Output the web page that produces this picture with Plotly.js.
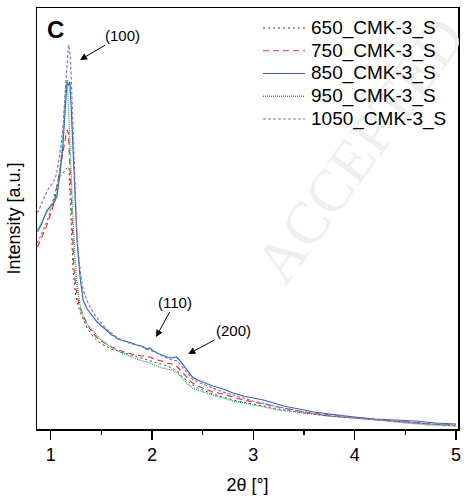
<!DOCTYPE html>
<html>
<head>
<meta charset="utf-8">
<script src="https://cdn.plot.ly/plotly-3.0.1.min.js"></script>
<style>html,body{margin:0;padding:0;background:#fff;}#chart{width:464px;height:500px;}</style>
</head>
<body>
<div id="chart"></div>
<script>
// 2θ values and intensities (a.u.)
const x650 = [0.87,0.92,0.97,1.00,1.04,1.08,1.12,1.15,1.18,1.19,1.205,1.22,1.24,1.26,1.29,1.32,1.36,1.42,1.50,1.60,1.70,1.80,1.90,2.00,2.05,2.10,2.15,2.20,2.25,2.30,2.35,2.40,2.45,2.50,2.60,2.70,2.80,2.90,3.00,3.25,3.50,3.75,4.00,4.25,4.50,4.75,5.00];
const y650 = [186,197,209,219,236,251,256,260,262,239,199,160,138,127,117,110,101,92,85,80,77,74,71,68,66,65,63,61,58,52,48,44,41,39,35,32,29,27,25,20,16,13,11,9,7,5,3];

const x750 = [0.87,0.91,0.96,1.00,1.04,1.08,1.11,1.14,1.16,1.175,1.19,1.20,1.215,1.23,1.25,1.28,1.32,1.36,1.40,1.45,1.50,1.55,1.60,1.65,1.70,1.75,1.80,1.85,1.90,1.95,2.00,2.05,2.10,2.15,2.20,2.24,2.28,2.32,2.36,2.40,2.45,2.50,2.60,2.70,2.80,2.90,3.00,3.25,3.50,3.75,4.00,4.25,4.50,4.75,5.00];
const y750 = [182,192,203,215,229,253,272,290,299,296,268,240,199,160,140,124,114,105,98,92,88,85,82,80,78,76,75,74,73,73,71,69,68,66,65,63,59,54,50,46,43,41,37,35,32,29,27,22,17,14,11,9,7,5,4];

const x850 = [0.87,0.91,0.96,1.00,1.03,1.06,1.09,1.12,1.14,1.16,1.175,1.19,1.205,1.22,1.24,1.26,1.29,1.32,1.36,1.40,1.45,1.50,1.55,1.60,1.63,1.66,1.70,1.75,1.80,1.85,1.90,1.95,1.98,2.00,2.05,2.10,2.15,2.20,2.24,2.27,2.31,2.35,2.40,2.45,2.50,2.60,2.70,2.80,2.90,3.00,3.10,3.20,3.30,3.40,3.50,3.60,3.75,3.90,4.00,4.20,4.40,4.60,4.80,5.00];
const y850 = [197,205,218,223,226,232,254,282,318,346,344,347,316,279,232,189,152,129,120,115,108,103,99,94,93,90,89,87,86,84,83,80,81,79,76,74,72,71,72,69,64,58,52,49,47,43,40,36,33,31,29,26,23,21,19,17,15,13,12,10,9,8,6,5];

const x950 = [0.87,0.91,0.96,1.00,1.03,1.06,1.09,1.12,1.14,1.155,1.165,1.18,1.19,1.205,1.22,1.24,1.26,1.29,1.32,1.36,1.40,1.45,1.50,1.55,1.60,1.65,1.70,1.75,1.80,1.85,1.90,1.95,2.00,2.05,2.10,2.15,2.20,2.25,2.30,2.35,2.40,2.45,2.50,2.60,2.70,2.80,2.90,3.00,3.25,3.50,3.75,4.00,4.25,4.50,4.75,5.00];
const y950 = [199,207,217,224,228,236,258,290,330,349,348,316,290,250,210,170,145,124,111,104,100,94,89,85,82,79,76,74,72,70,68,67,65,63,61,60,59,56,50,45,41,39,37,34,31,28,26,24,19,16,13,11,9,6,4,3];

const x1050 = [0.87,0.92,0.97,1.00,1.04,1.06,1.09,1.12,1.14,1.16,1.175,1.185,1.195,1.21,1.225,1.24,1.26,1.29,1.32,1.36,1.40,1.45,1.50,1.55,1.60,1.65,1.70,1.75,1.80,1.85,1.90,1.95,2.00,2.05,2.10,2.15,2.20,2.25,2.30,2.35,2.40,2.45,2.50,2.60,2.70,2.80,2.90,3.00,3.25,3.50,3.75,4.00,4.25,4.50,4.75,5.00];
const y1050 = [216,228,239,243,250,256,275,299,332,366,384,380,370,332,285,240,190,160,139,128,120,112,106,100,96,92,89,87,85,84,82,80,78,76,73,71,69,68,62,56,50,47,45,41,37,34,31,28,22,17,13,11,9,7,5,4];

const seriesNames = ['650_CMK-3_S','750_CMK-3_S','850_CMK-3_S','950_CMK-3_S','1050_CMK-3_S'];
const seriesX = [x650,x750,x850,x950,x1050];
const seriesY = [y650,y750,y850,y950,y1050];
const peakLabels = ['(100)','(110)','(200)'];
const peakX = [1.29, 2.04, 2.358];
const peakY = [369, 92, 75];

const styles = [
  {color:'#404040', dash:'2px,3px', width:1},
  {color:'#ee3333', dash:'6px,4px', width:1.2},
  {color:'#3366bb', dash:'solid', width:1.2},
  {color:'#20a860', dash:'1px,1px', width:1.3},
  {color:'#8e72c8', dash:'3px,2px', width:1.2}
];

const traces = seriesNames.map((n,i)=>({
  x: seriesX[i], y: seriesY[i], name: n, type:'scatter', mode:'lines',
  line:{color:styles[i].color, dash:styles[i].dash, width:styles[i].width}
}));

// plot area in pixels: left 37, right 458, top 8, bottom 429
const px = v => (v-37)/421;
const py = v => (429-v)/421;

const shapes = [];
const annotations = [
  {xref:'paper', yref:'paper', x:px(360), y:py(150), xanchor:'center', yanchor:'middle', text:'ACCEPTED', showarrow:false,
   textangle:-54, font:{family:'Liberation Serif, serif', size:60, color:'#efefef'}},
  {xref:'paper', yref:'paper', x:px(55), y:py(30), xanchor:'center', yanchor:'middle', text:'<b>C</b>',
   showarrow:false, font:{size:24}}
];
seriesNames.forEach((n,i)=>{
  const yy = 28 + 22.75*i;
  shapes.push({type:'line', xref:'paper', yref:'paper', x0:px(263), x1:px(305), y0:py(yy), y1:py(yy),
    line:{color:styles[i].color, dash:styles[i].dash, width:styles[i].width}});
  annotations.push({xref:'paper', yref:'paper', x:px(309), y:py(yy), xanchor:'left', yanchor:'middle',
    text:n, showarrow:false, font:{size:19}});
});
const offs = [[42,-25],[19,-35],[45,-24]];
peakLabels.forEach((t,i)=>{
  annotations.push({x:peakX[i], y:peakY[i], ax:offs[i][0], ay:offs[i][1], text:t, showarrow:true,
    arrowhead:2, arrowsize:1.4, arrowwidth:1, arrowcolor:'#000', font:{size:15}});
});

const fontFam = 'Liberation Sans, Arial, sans-serif';
const layout = {
  width:464, height:500,
  margin:{l:37, r:6, t:8, b:71},
  paper_bgcolor:'#fff', plot_bgcolor:'#fff',
  font:{family:fontFam, size:18, color:'#000'},
  showlegend:false,
  xaxis:{range:[0.865,5.02], showgrid:false, zeroline:false,
         showline:true, linecolor:'#000', linewidth:1.5, mirror:true,
         tickvals:[1,2,3,4,5], ticktext:['1','2','3','4','5'],
         ticks:'outside', ticklen:9, tickwidth:1.5, tickcolor:'#000',
         minor:{tickvals:[1.5,2.5,3.5,4.5], ticks:'outside', ticklen:4, tickwidth:1.5, tickcolor:'#000'},
         tickfont:{size:18},
         title:{text:'2θ [°]', font:{size:18}, standoff:14}},
  yaxis:{range:[0,421], showgrid:false, zeroline:false,
         showline:true, linecolor:'#000', linewidth:1.5, mirror:true,
         ticks:'', showticklabels:false,
         title:{text:'Intensity [a.u.]', font:{size:18}, standoff:10}},
  shapes: shapes,
  annotations: annotations
};

Plotly.newPlot('chart', traces, layout, {displayModeBar:false, staticPlot:true});
</script>
</body>
</html>
